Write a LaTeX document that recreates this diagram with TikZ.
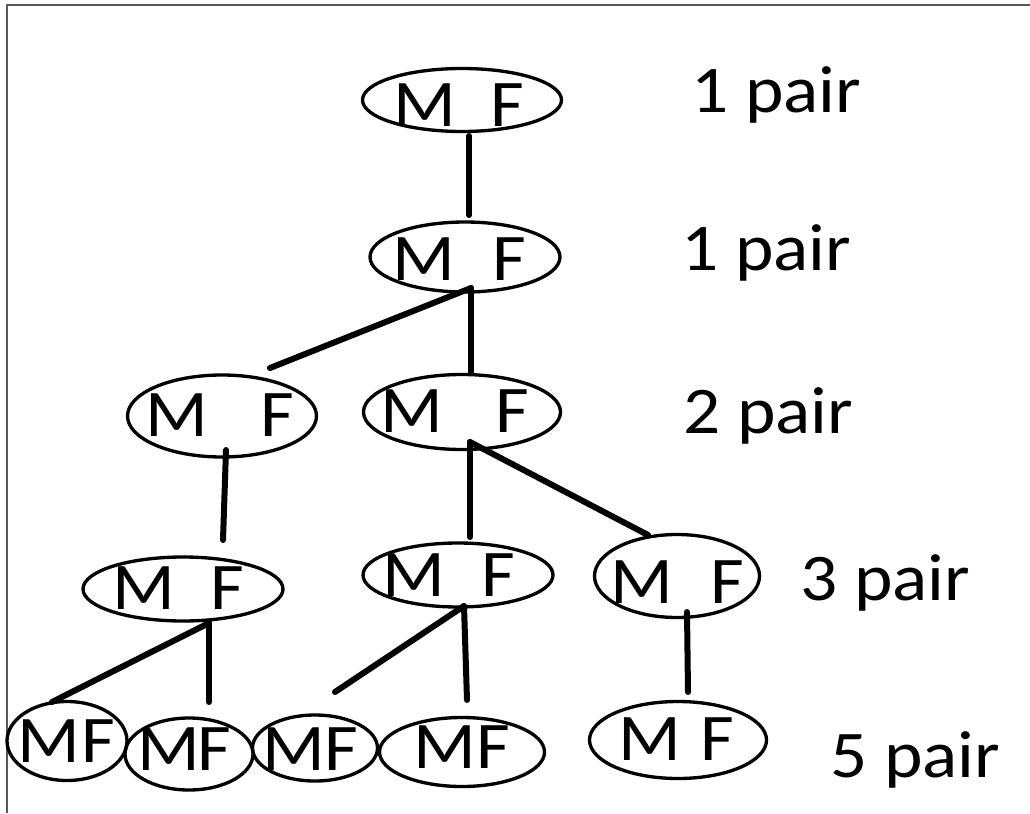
\documentclass[tikz,border=0pt]{standalone}
\usepackage{fontspec}
\setmainfont{Carlito}[FakeStretch=1.1]
\usetikzlibrary{shapes.geometric}
\tikzset{
  pairnode/.style={draw, ellipse, line width=2.5pt, inner sep=0pt},
  pairtext/.style={anchor=base west, inner sep=0pt, font=\fontsize{50}{50}\selectfont},
  countlabel/.style={anchor=base west, inner sep=0pt, font=\fontsize{50}{50}\selectfont},
  link/.style={line width=4.5pt, line cap=round},
  frameline/.style={draw=black!65, line width=1.5pt}
}
\begin{document}
\begin{tikzpicture}[x=0.75pt,y=-0.75pt]
\useasboundingbox (0,0) rectangle (1030,813);
% frame
\coordinate (fa) at (1030,5);
\coordinate (fb) at (7,5);
\coordinate (fc) at (7,813);
\draw[frameline] (fa) -- (fb) -- (fc);

% ellipses
\node[pairnode, minimum width=149.25pt, minimum height=47.25pt] (e1) at (462,100) {};
\node[pairnode, minimum width=142.5pt, minimum height=52.5pt] (e2) at (465,257) {};
\node[pairnode, minimum width=141.75pt, minimum height=61.5pt] (e3a) at (222,416) {};
\node[pairnode, minimum width=147.75pt, minimum height=56.25pt] (e3b) at (462,412) {};
\node[pairnode, minimum width=150pt, minimum height=48pt] (e4a) at (183,589) {};
\node[pairnode, minimum width=142.5pt, minimum height=48pt] (e4b) at (458,575) {};
\node[pairnode, minimum width=123.75pt, minimum height=62.25pt] (e4c) at (677,576) {};
\node[pairnode, minimum width=90pt, minimum height=59.25pt] (e5a) at (67,741) {};
\node[pairnode, minimum width=96pt, minimum height=54pt] (e5b) at (189,754) {};
\node[pairnode, minimum width=93.75pt, minimum height=49.5pt] (e5c) at (315,748) {};
\node[pairnode, minimum width=123.75pt, minimum height=51.75pt] (e5d) at (462,752) {};
\node[pairnode, minimum width=132.75pt, minimum height=57.75pt] (e5e) at (678,740) {};

% texts in ellipses
\node[pairtext] (t1) at (393,127) {M\hspace{26.25pt}F};
\node[pairtext] (t2) at (392,280) {M\hspace{28.5pt}F};
\node[pairtext] (t3a) at (145,436) {M\hspace{39.75pt}F};
\node[pairtext] (t3b) at (380,432) {M\hspace{39.75pt}F};
\node[pairtext] (t4a) at (112,609) {M\hspace{27pt}F};
\node[pairtext] (t4b) at (382,596) {M\hspace{27.75pt}F};
\node[pairtext] (t4c) at (610,603) {M\hspace{28.5pt}F};
\node[pairtext] (t5a) at (17,762) {M\hspace{1.5pt}F};
\node[pairtext] (t5b) at (137,770) {M\hspace{-2.25pt}F};
\node[pairtext] (t5c) at (262,770) {MF};
\node[pairtext] (t5d) at (413,768) {M\hspace{0.75pt}F};
\node[pairtext] (t5e) at (618,760) {M\hspace{15pt}F};

% count labels
\node[countlabel] (n1) at (691,113) {1 pair};
\node[countlabel] (n2) at (681,270) {1 pair};
\node[countlabel] (n3) at (683,433) {2 pair};
\node[countlabel] (n4) at (800,600) {3 pair};
\node[countlabel] (n5) at (830,777) {5 pair};

% connector end points
\coordinate (c1s) at (469,136);
\coordinate (c1e) at (469,215);
\coordinate (c2s) at (471,288);
\coordinate (c2l) at (270,368);
\coordinate (c2m) at (471,373);
\coordinate (c3as) at (226,450);
\coordinate (c3ae) at (223,540);
\coordinate (c3bs) at (470,442);
\coordinate (c3bm) at (470,537);
\coordinate (c3br) at (648,535);
\coordinate (c4as) at (209,623);
\coordinate (c4al) at (52,702);
\coordinate (c4am) at (209,702);
\coordinate (c4bs) at (464,606);
\coordinate (c4bl) at (335,692);
\coordinate (c4bm) at (467,700);
\coordinate (c4cs) at (687,612);
\coordinate (c4ce) at (688,692);

% connectors
\draw[link] (c1s) -- (c1e);
\draw[link] (c2s) -- (c2l);
\draw[link] (c2s) -- (c2m);
\draw[link] (c3as) -- (c3ae);
\draw[link] (c3bs) -- (c3bm);
\draw[link] (c3bs) -- (c3br);
\draw[link] (c4as) -- (c4al);
\draw[link] (c4as) -- (c4am);
\draw[link] (c4bs) -- (c4bl);
\draw[link] (c4bs) -- (c4bm);
\draw[link] (c4cs) -- (c4ce);
\end{tikzpicture}
\end{document}
